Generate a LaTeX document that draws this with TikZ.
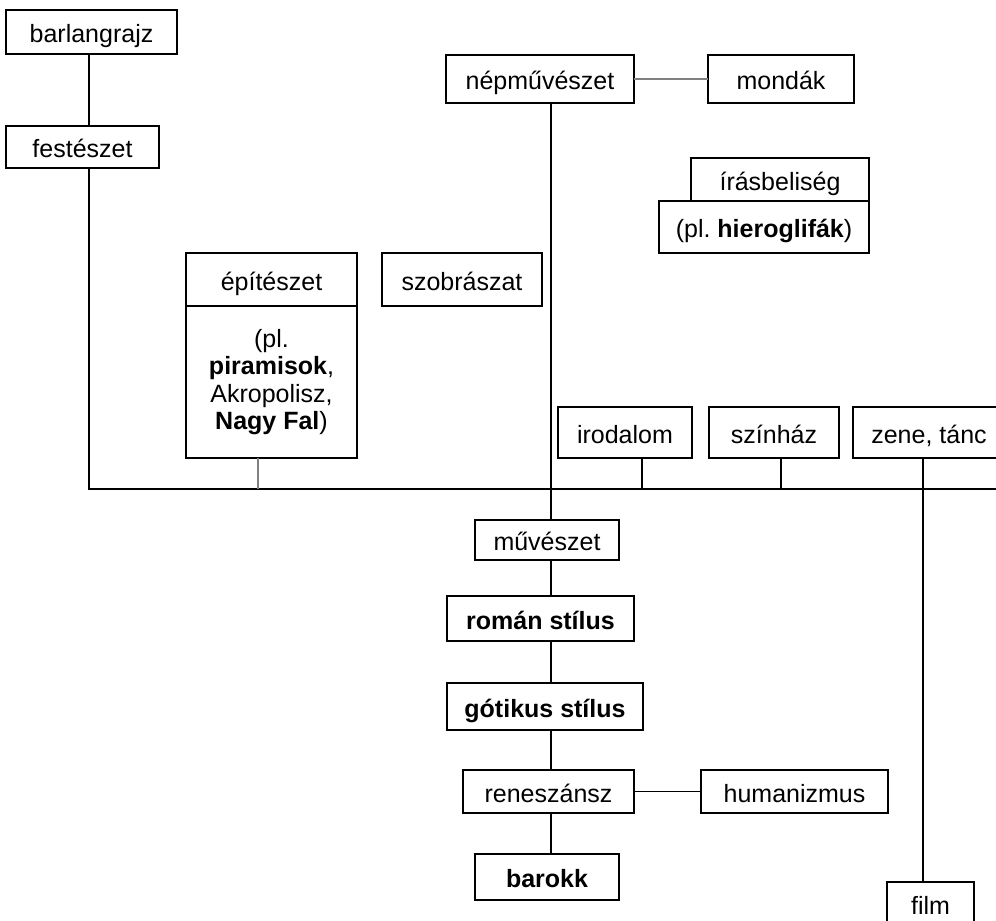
\documentclass[tikz,border=0pt]{standalone}
\usepackage{fontspec}
\setmainfont{Liberation Sans}
\usetikzlibrary{positioning}

\tikzset{
  bx/.style={draw, line width=1pt, inner sep=0pt, outer sep=0pt, text height=16.2pt, text depth=0pt},
  sz/.style 2 args={minimum width=#1*0.75pt, minimum height=#2*0.75pt},
  ln/.style={line width=1pt},
  lngray/.style={line width=1.1pt, gray},
}

\begin{document}
\begin{tikzpicture}[x=0.75pt, y=-0.75pt, every node/.style={font=\fontsize{18.75}{20.5}\selectfont}]
	\useasboundingbox (0,0) rectangle (996,921);
	\clip (0,0) rectangle (996,921);

	% upper part
	\node[bx, sz={171}{44}] (barl) at (91.5,32) {barlangrajz};
	\node[bx, sz={153}{42}] (fest) at (82.5,147) {festészet};
	\node[bx, sz={188}{48}] (nep) at (540,79) {népművészet};
	\node[bx, sz={146}{48}] (mond) at (781,79) {mondák};
	\node[bx, sz={210}{52}] (hier) at (764,227) {(pl.\ \textbf{hieroglifák})};
	\node[bx, sz={178}{43}, above left=0pt of hier.north east] (iras) {írásbeliség};
	\node[bx, sz={171}{53}] (epit) at (271.5,279.5) {építészet};
	\node[draw, line width=1pt, inner sep=0pt, outer sep=0pt, sz={171}{152}, align=center, below=0pt of epit] (epitpl) {(pl.\\\textbf{piramisok},\\Akropolisz,\\\textbf{Nagy Fal})};
	\node[bx, sz={160}{53}] (szob) at (462,279.5) {szobrászat};
	\node[bx, sz={134}{51}] (irod) at (625,432.5) {irodalom};
	\node[bx, sz={130}{51}] (szin) at (774,432.5) {színház};
	\node[bx, sz={152}{51}] (zene) at (929,432.5) {zene, tánc};

	% lower part
	\node[bx, sz={144}{40}] (muv) at (547,540) {művészet};
	\node[bx, sz={187}{45}] (roman) at (540.5,618.5) {\textbf{román stílus}};
	\node[bx, sz={196}{47}] (got) at (545,706.5) {\textbf{gótikus stílus}};
	\node[bx, sz={171}{43}] (ren) at (548.5,791.5) {reneszánsz};
	\node[bx, sz={187}{43}] (hum) at (794.5,791.5) {humanizmus};
	\node[bx, sz={144}{46}] (bar) at (547,877) {\textbf{barokk}};
	\node[bx, sz={87}{44}] (film) at (930.5,904) {film};

	\coordinate (xl) at (89,0);
	\coordinate (xm) at (551,0);
	\coordinate (hl) at (89,489);
	\coordinate (hr) at (996,489);

	\draw[ln] (barl.south -| xl) -- (fest.north -| xl);
	\draw[ln] (fest.south -| xl) -- (hl) -- (hr);
	\draw[lngray] (nep) -- (mond);
	\draw[ln] (nep.south -| xm) -- (muv.north -| xm);
	\draw[lngray] (epitpl.south -| 258,0) -- (hl -| 258,0);
	\foreach \n/\x in {irod/642, szin/781}
		\draw[ln] (\n.south -| \x,0) -- (hl -| \x,0);
	\draw[ln] (zene.south -| 923,0) -- (film.north -| 923,0);
	\foreach \a/\b in {muv/roman, roman/got, got/ren, ren/bar}
		\draw[ln] (\a.south -| xm) -- (\b.north -| xm);
	\draw[ln] (ren) -- (hum);
\end{tikzpicture}
\end{document}
